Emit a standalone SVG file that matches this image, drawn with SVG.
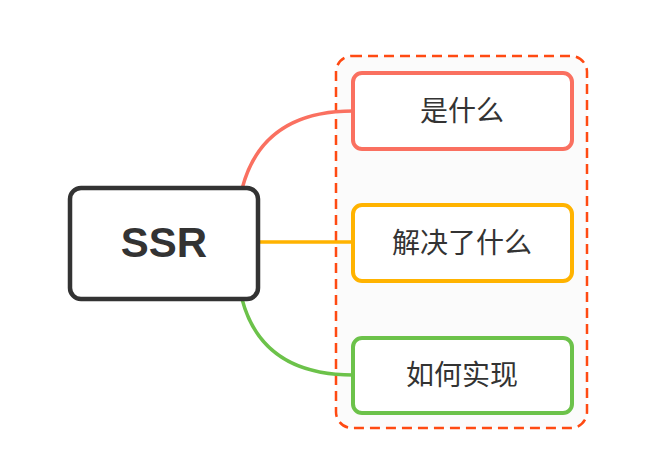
<svg xmlns="http://www.w3.org/2000/svg" width="650" height="466" viewBox="0 0 650 466">
<style>
.conn{fill:none;stroke-width:3.5;stroke-linecap:round}
.box{fill:#ffffff;stroke-width:4}
.lbl{font-family:"Noto Sans CJK SC","Noto Sans",sans-serif;font-size:28px;fill:#333333;text-anchor:middle}
</style>
<rect width="650" height="466" fill="#ffffff"/>
<g id="group-frame">
<rect x="336" y="56" width="251" height="372" rx="16" fill="#fbfbfb" stroke="#ff4a12" stroke-width="2.5" stroke-dasharray="10,6"/>
</g>
<g id="connectors">
<path class="conn" d="M242,189 Q262,111 353,111" stroke="#fa7060"/>
<path class="conn" d="M259,242 L353,242" stroke="#ffb300"/>
<path class="conn" d="M242,299 Q262,375 353,375" stroke="#6cc24a"/>
</g>
<g id="node-ssr">
<rect x="70" y="188" width="188" height="111" rx="11" fill="#ffffff" stroke="#333333" stroke-width="4.5"/>
<text x="164" y="257" font-family="Liberation Sans, Arial, sans-serif" font-weight="bold" font-size="42" fill="#333333" text-anchor="middle">SSR</text>
</g>
<g id="node-what">
<rect class="box" x="353" y="73" width="219" height="76" rx="9" stroke="#fa7060"/>
<text class="lbl" x="462" y="121">是什么</text>
</g>
<g id="node-solve">
<rect class="box" x="353" y="205" width="219" height="76" rx="9" stroke="#ffb300"/>
<text class="lbl" x="462" y="253">解决了什么</text>
</g>
<g id="node-how">
<rect class="box" x="353" y="338" width="219" height="75" rx="9" stroke="#6cc24a"/>
<text class="lbl" x="462" y="385">如何实现</text>
</g>
</svg>
